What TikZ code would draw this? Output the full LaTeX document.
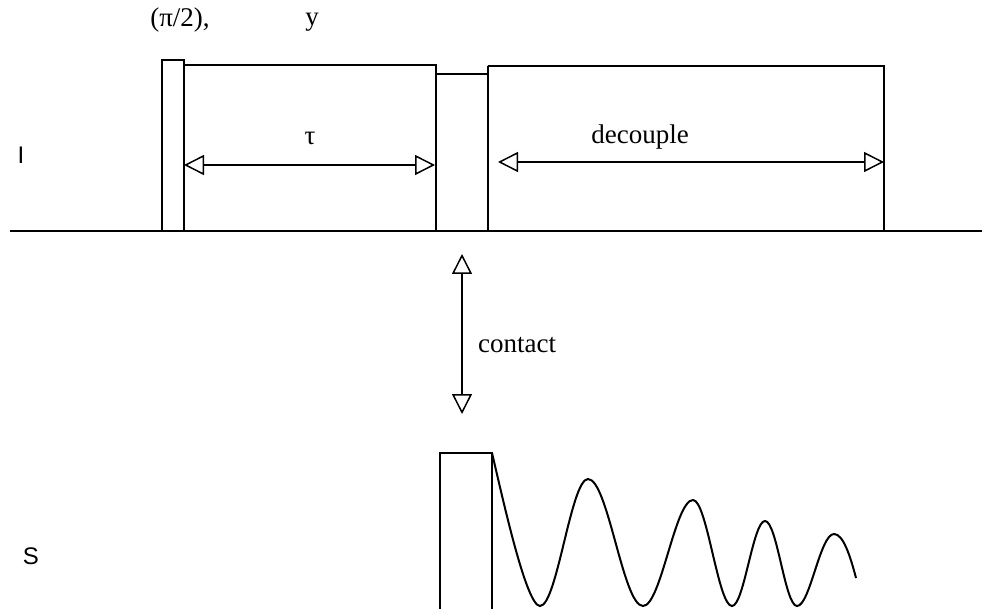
\documentclass[tikz,border=0pt]{standalone}
\usepackage{fontspec}
\setmainfont{Liberation Serif}
\newfontfamily\labsans{Liberation Sans}
\usetikzlibrary{arrows.meta}
\begin{document}
\begin{tikzpicture}[x=1pt,y=-1pt,line join=miter,
  seq/.style={line width=2pt},
  tip/.tip={Triangle[open,length=20pt,width=20pt,line width=1.5pt]},
  dim/.style={line width=1.5pt,{tip}-{tip}},
  lab/.style={font=\fontsize{27}{30}\selectfont,inner sep=0pt},
  chan/.style={font=\labsans\fontsize{24}{28}\selectfont,inner sep=0pt}]
\useasboundingbox (0,0) rectangle (982,609);
% baseline of I channel
\coordinate (b0) at (10,231);
\coordinate (b1) at (982,231);
\draw[seq] (b0) -- (b1);
% pi/2 pulse
\draw[seq] (162,231) -- (162,60) -- (184,60) -- (184,231);
% tau block
\draw[seq] (184,65) -- (436,65) -- (436,231);
% contact block
\draw[seq] (436,74) -- (488,74) -- (488,66) -- (488,231);
% decouple block
\draw[seq] (488,66) -- (884,66) -- (884,231);
% arrows
\coordinate (tl) at (184,165);
\coordinate (tr) at (435,165);
\draw[dim] (tl) -- (tr);
\coordinate (dl) at (498,162);
\coordinate (dr) at (884,162);
\draw[dim] (dl) -- (dr);
\coordinate (ct) at (462,254);
\coordinate (cb) at (462,414);
\draw[dim] (ct) -- (cb);
% labels
\node[lab] (pi2) at (180,20) {(π/2),};
\node[lab] (ylab) at (312,22) {y};
\node[lab] (tau) at (310,138) {τ};
\node[lab] (dec) at (640,137) {decouple};
\node[lab,anchor=west] (con) at (478,345) {contact};
\node[chan] (Ich) at (21,155) {I};
\node[chan] (Sch) at (31,556) {S};
% S channel pulse
\draw[seq] (440,609) -- (440,453) -- (492,453) -- (492,609);
% FID
\draw[line width=2pt] (492,453)
  .. controls (502,495) and (526,606) .. (540,606)
  .. controls (557,606) and (571,479) .. (588,479)
  .. controls (608,479) and (623,606) .. (643,606)
  .. controls (661,606) and (675,500) .. (693,500)
  .. controls (707,500) and (718,606) .. (732,606)
  .. controls (744,606) and (753,521) .. (765,521)
  .. controls (777,521) and (785,606) .. (797,606)
  .. controls (810,606) and (820,534) .. (834,534)
  .. controls (843,534) and (850,555) .. (856,578);
\end{tikzpicture}
\end{document}
